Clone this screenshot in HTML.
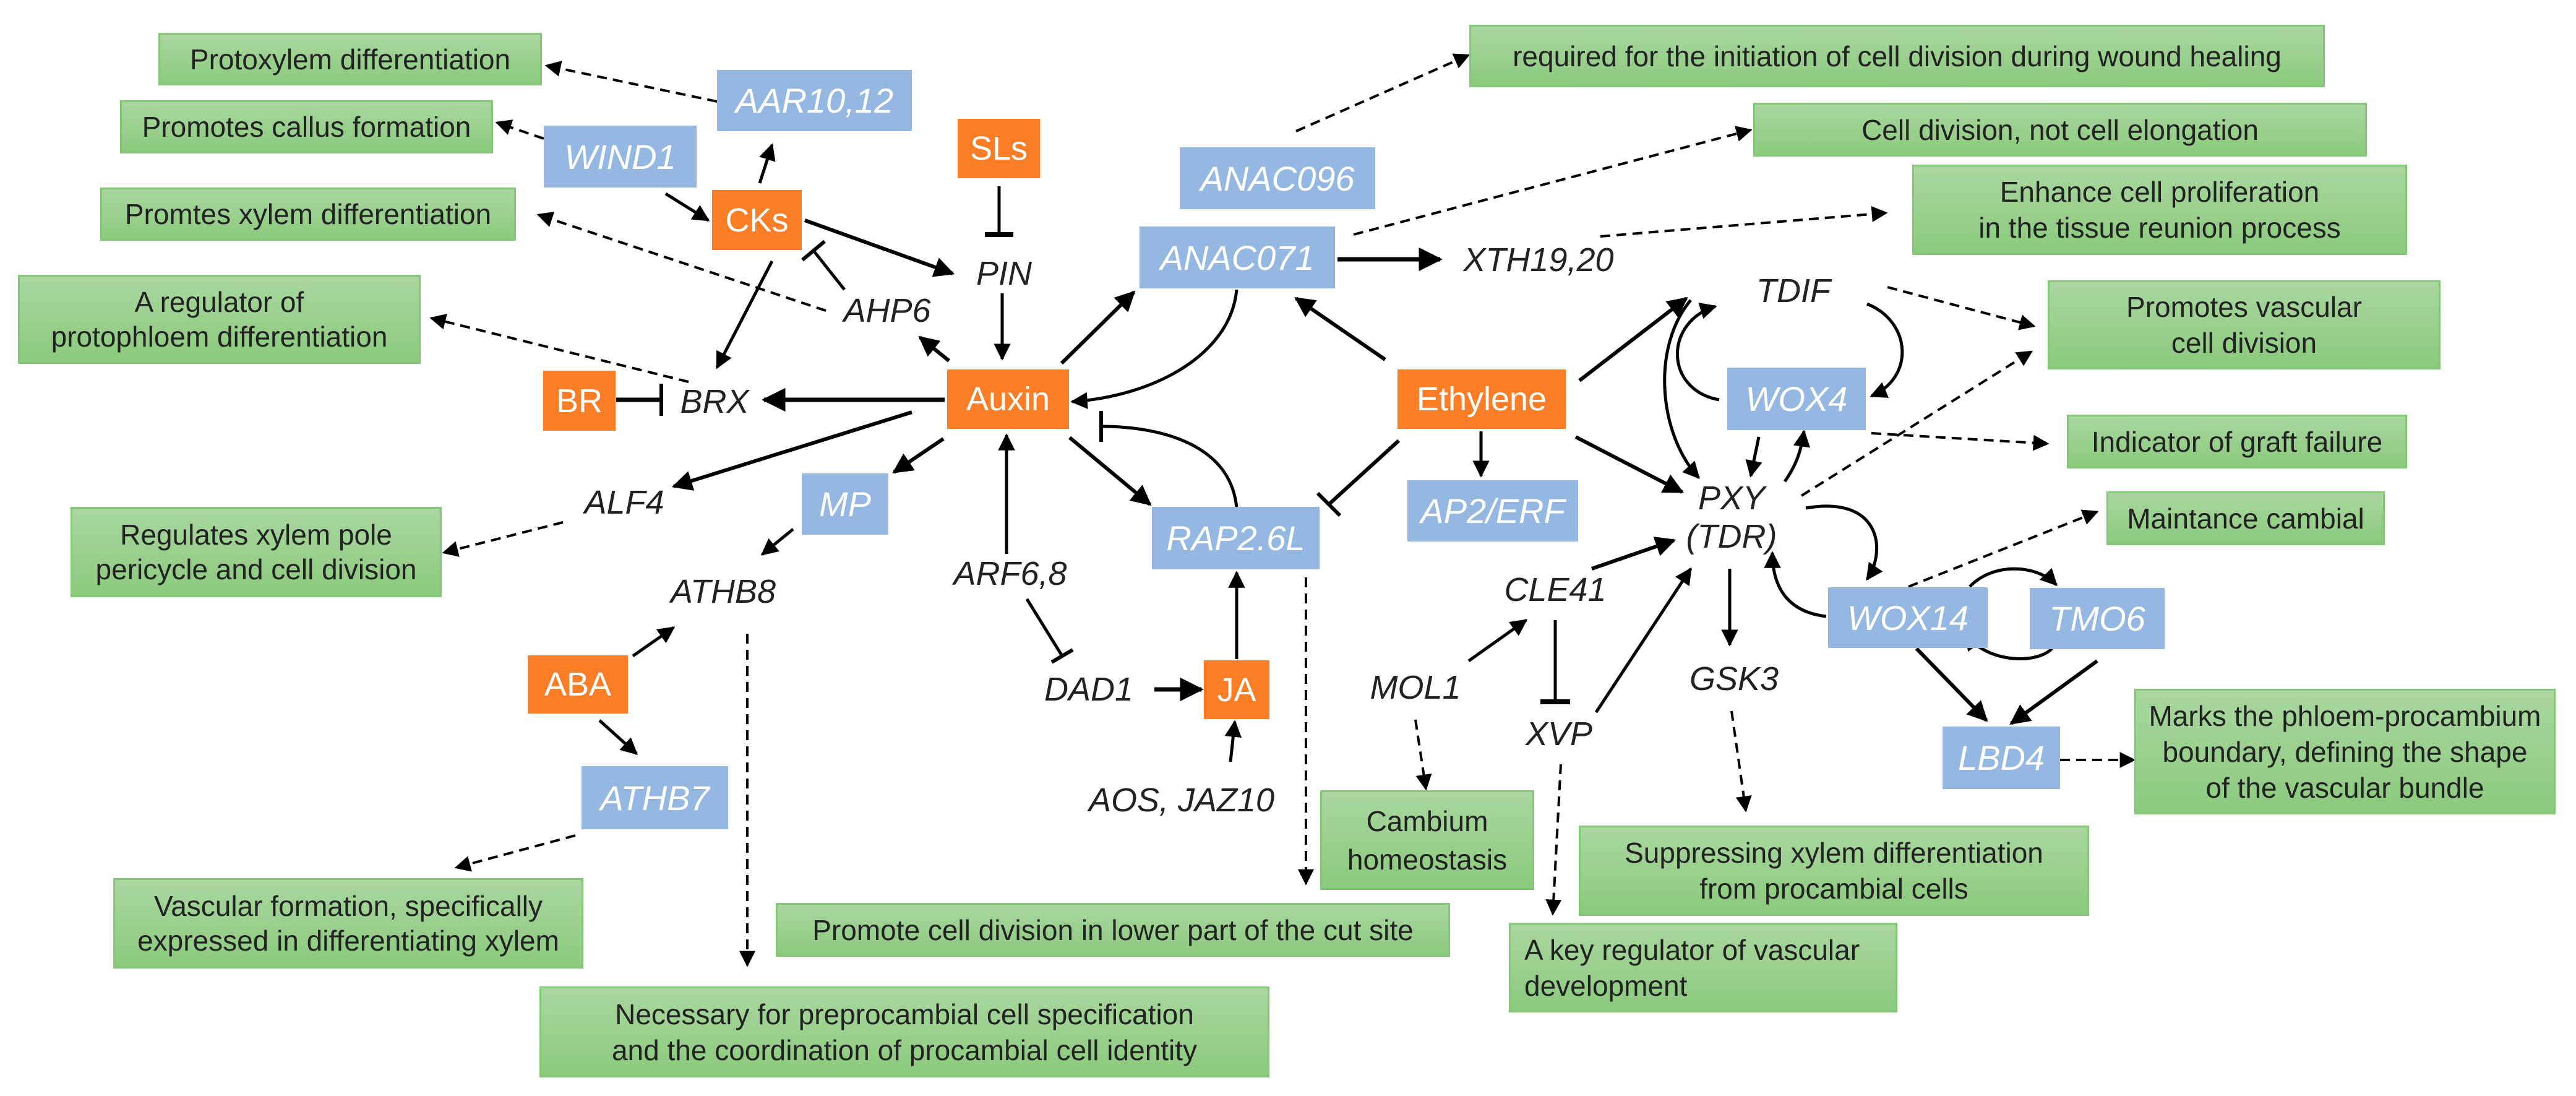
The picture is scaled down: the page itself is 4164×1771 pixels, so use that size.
<!DOCTYPE html>
<html><head><meta charset="utf-8"><style>
html,body{margin:0;padding:0;background:#fff;}
#c{position:relative;width:4164px;height:1771px;overflow:hidden;background:#fff;font-family:"Liberation Sans",sans-serif;}
.g{position:absolute;box-sizing:border-box;background:linear-gradient(#a9d69f,#8bca7d);border:3px solid #84c777;color:#222;font-size:46px;line-height:56px;display:flex;align-items:center;justify-content:center;text-align:center;white-space:nowrap;}
.b{position:absolute;box-sizing:border-box;background:#95b8e2;color:#fff;font-style:italic;font-size:56px;display:flex;align-items:center;justify-content:center;}
.o{position:absolute;box-sizing:border-box;background:#fb7d26;color:#fff;font-size:54px;display:flex;align-items:center;justify-content:center;}
.t{position:absolute;color:#222;font-style:italic;font-size:54px;transform:translate(-50%,-50%);white-space:nowrap;line-height:1;}
svg{position:absolute;left:0;top:0;}
</style></head><body><div id="c">
<svg width="4164" height="1771" viewBox="0 0 4164 1771">
<defs>
<marker id="a" viewBox="0 0 10 10" refX="9" refY="5" markerWidth="5.5" markerHeight="5.5" orient="auto" markerUnits="strokeWidth"><path d="M0,0L10,5L0,10z" fill="#000"/></marker>
<marker id="d" viewBox="0 0 10 10" refX="9" refY="5" markerWidth="6.5" markerHeight="6.5" orient="auto" markerUnits="strokeWidth"><path d="M0,0L10,5L0,10z" fill="#000"/></marker>
</defs>
<g stroke="#000" fill="none" stroke-width="5" marker-end="url(#a)">
<line x1="1076" y1="313" x2="1145" y2="356"/>
<line x1="1228" y1="296" x2="1248" y2="234"/>
<line x1="1301" y1="356" x2="1540" y2="442" stroke-width="6"/>
<line x1="1248" y1="422" x2="1159" y2="594"/>
<line x1="1620" y1="474" x2="1620" y2="580"/>
<line x1="1534" y1="583" x2="1487" y2="545" stroke-width="6"/>
<line x1="1716" y1="587" x2="1833" y2="472" stroke-width="6"/>
<path d="M1999,468 C1990,570 1870,640 1733,649"/>
<line x1="1527" y1="646" x2="1235" y2="646" stroke-width="7"/>
<line x1="1474" y1="666" x2="1089" y2="786" stroke-width="6"/>
<line x1="1525" y1="709" x2="1445" y2="763" stroke-width="6"/>
<line x1="1627" y1="895" x2="1627" y2="703"/>
<line x1="1729" y1="707" x2="1859" y2="815" stroke-width="6"/>
<line x1="1282" y1="855" x2="1232" y2="896"/>
<line x1="1023" y1="1060" x2="1089" y2="1014"/>
<line x1="969" y1="1164" x2="1029" y2="1218"/>
<line x1="1866" y1="1114" x2="1942" y2="1114" stroke-width="7"/>
<line x1="1999" y1="1065" x2="1999" y2="925"/>
<line x1="1989" y1="1231" x2="1996" y2="1166"/>
<line x1="2162" y1="419" x2="2328" y2="419" stroke-width="7"/>
<line x1="2239" y1="581" x2="2095" y2="482" stroke-width="6"/>
<line x1="2553" y1="615" x2="2726" y2="482" stroke-width="6"/>
<path d="M3018,491 C3090,520 3095,610 3025,640"/>
<path d="M2779,646 C2690,630 2690,520 2773,495"/>
<path d="M2733,485 C2670,560 2680,700 2746,772"/>
<line x1="2547" y1="706" x2="2719" y2="795" stroke-width="6"/>
<line x1="2394" y1="697" x2="2394" y2="769"/>
<line x1="2843" y1="706" x2="2830" y2="769"/>
<path d="M2885,778 C2905,750 2912,725 2916,697"/>
<path d="M2919,821 C3040,800 3050,890 3018,936"/>
<path d="M2952,996 C2900,990 2865,960 2865,893"/>
<line x1="2573" y1="919" x2="2706" y2="873" stroke-width="6"/>
<line x1="2374" y1="1068" x2="2467" y2="1002"/>
<line x1="2580" y1="1151" x2="2733" y2="919"/>
<line x1="2796" y1="919" x2="2796" y2="1042"/>
<path d="M3184,948 C3220,910 3290,910 3324,945"/>
<path d="M3317,1048 C3290,1075 3210,1070 3178,1025"/>
<line x1="3098" y1="1048" x2="3211" y2="1164" stroke-width="6"/>
<line x1="3390" y1="1068" x2="3251" y2="1169" stroke-width="6"/>
</g>
<g stroke="#000" fill="none" stroke-width="5">
<line x1="1615" y1="301" x2="1615" y2="379"/><line x1="1592" y1="379" x2="1638" y2="379" stroke-width="8"/>
<line x1="1365" y1="468" x2="1315" y2="405"/><line x1="1297" y1="420" x2="1333" y2="390" stroke-width="6"/>
<line x1="996" y1="646" x2="1069" y2="646" stroke-width="7"/><line x1="1069" y1="620" x2="1069" y2="672" stroke-width="6"/>
<path d="M1999,821 C1990,720 1880,689 1780,689"/><line x1="1780" y1="664" x2="1780" y2="714" stroke-width="6"/>
<line x1="1660" y1="968" x2="1717" y2="1060"/><line x1="1700" y1="1070" x2="1734" y2="1050" stroke-width="6"/>
<line x1="2261" y1="712" x2="2148" y2="815" stroke-width="6"/><line x1="2130" y1="797" x2="2166" y2="833" stroke-width="6"/>
<line x1="2514" y1="1002" x2="2514" y2="1134"/><line x1="2490" y1="1134" x2="2538" y2="1134" stroke-width="8"/>
</g>
<g stroke="#000" fill="none" stroke-width="4" stroke-dasharray="16 10" marker-end="url(#d)">
<line x1="1159" y1="164" x2="883" y2="106"/>
<line x1="879" y1="224" x2="803" y2="198"/>
<line x1="1335" y1="502" x2="870" y2="347"/>
<line x1="1113" y1="617" x2="697" y2="514"/>
<line x1="910" y1="844" x2="717" y2="893"/>
<line x1="930" y1="1350" x2="737" y2="1402"/>
<line x1="1208" y1="1024" x2="1208" y2="1560"/>
<line x1="2111" y1="933" x2="2111" y2="1428"/>
<line x1="2095" y1="212" x2="2374" y2="89"/>
<line x1="2188" y1="379" x2="2830" y2="210"/>
<line x1="2587" y1="382" x2="3049" y2="344"/>
<line x1="3051" y1="464" x2="3288" y2="527"/>
<line x1="3025" y1="700" x2="3310" y2="717"/>
<line x1="2912" y1="801" x2="3284" y2="568"/>
<line x1="3085" y1="948" x2="3390" y2="827"/>
<line x1="2288" y1="1163" x2="2305" y2="1275"/>
<line x1="2523" y1="1235" x2="2510" y2="1477"/>
<line x1="2799" y1="1149" x2="2822" y2="1310"/>
<line x1="3330" y1="1228" x2="3450" y2="1228"/>
</g>
</svg>

<div class="g" style="left:256px;top:53px;width:620px;height:85px">Protoxylem differentiation</div>
<div class="g" style="left:194px;top:162px;width:603px;height:86px">Promotes callus formation</div>
<div class="g" style="left:162px;top:303px;width:672px;height:86px">Promtes xylem differentiation</div>
<div class="g" style="left:29px;top:444px;width:651px;height:144px">A regulator of<br>protophloem differentiation</div>
<div class="g" style="left:114px;top:819px;width:600px;height:146px">Regulates xylem pole<br>pericycle and cell division</div>
<div class="g" style="left:183px;top:1419px;width:760px;height:146px">Vascular formation, specifically<br>expressed in differentiating xylem</div>
<div class="g" style="left:1254px;top:1459px;width:1090px;height:87px">Promote cell division in lower part of the cut site</div>
<div class="g" style="left:872px;top:1594px;width:1180px;height:147px;line-height:58px">Necessary for preprocambial cell specification<br>and the coordination of procambial cell identity</div>
<div class="g" style="left:2375px;top:40px;width:1383px;height:101px">required for the initiation of cell division during wound healing</div>
<div class="g" style="left:2834px;top:166px;width:992px;height:87px">Cell division, not cell elongation</div>
<div class="g" style="left:3091px;top:266px;width:800px;height:146px;line-height:58px">Enhance cell proliferation<br>in the tissue reunion process</div>
<div class="g" style="left:3310px;top:453px;width:635px;height:144px;line-height:58px">Promotes vascular<br>cell division</div>
<div class="g" style="left:3341px;top:670px;width:550px;height:87px">Indicator of graft failure</div>
<div class="g" style="left:3405px;top:794px;width:450px;height:87px">Maintance cambial</div>
<div class="g" style="left:3450px;top:1113px;width:681px;height:203px;line-height:58px">Marks the phloem-procambium<br>boundary, defining the shape<br>of the vascular bundle</div>
<div class="g" style="left:2134px;top:1277px;width:346px;height:161px;line-height:62px">Cambium<br>homeostasis</div>
<div class="g" style="left:2552px;top:1334px;width:825px;height:146px;line-height:58px">Suppressing xylem differentiation<br>from procambial cells</div>
<div class="g" style="left:2439px;top:1491px;width:628px;height:145px;line-height:58px;justify-content:flex-start;text-align:left;padding-left:22px">A key regulator of vascular<br>development</div>

<div class="b" style="left:1159px;top:113px;width:315px;height:99px">AAR10,12</div>
<div class="b" style="left:879px;top:203px;width:247px;height:100px">WIND1</div>
<div class="b" style="left:1907px;top:238px;width:316px;height:100px">ANAC096</div>
<div class="b" style="left:1842px;top:366px;width:316px;height:100px">ANAC071</div>
<div class="b" style="left:1296px;top:765px;width:140px;height:99px">MP</div>
<div class="b" style="left:1862px;top:819px;width:271px;height:101px">RAP2.6L</div>
<div class="b" style="left:940px;top:1238px;width:237px;height:102px">ATHB7</div>
<div class="b" style="left:2792px;top:594px;width:224px;height:101px">WOX4</div>
<div class="b" style="left:2275px;top:776px;width:276px;height:99px">AP2/ERF</div>
<div class="b" style="left:2955px;top:949px;width:258px;height:98px">WOX14</div>
<div class="b" style="left:3281px;top:950px;width:218px;height:99px">TMO6</div>
<div class="b" style="left:3140px;top:1174px;width:190px;height:101px">LBD4</div>

<div class="o" style="left:1548px;top:192px;width:133px;height:96px">SLs</div>
<div class="o" style="left:1151px;top:307px;width:145px;height:97px">CKs</div>
<div class="o" style="left:878px;top:599px;width:117px;height:97px">BR</div>
<div class="o" style="left:1531px;top:597px;width:197px;height:96px">Auxin</div>
<div class="o" style="left:2259px;top:597px;width:272px;height:96px">Ethylene</div>
<div class="o" style="left:853px;top:1059px;width:162px;height:94px">ABA</div>
<div class="o" style="left:1946px;top:1067px;width:106px;height:95px">JA</div>

<div class="t" style="left:1623px;top:442px">PIN</div>
<div class="t" style="left:1434px;top:502px">AHP6</div>
<div class="t" style="left:1155px;top:649px">BRX</div>
<div class="t" style="left:1009px;top:812px">ALF4</div>
<div class="t" style="left:1169px;top:956px">ATHB8</div>
<div class="t" style="left:1633px;top:927px">ARF6,8</div>
<div class="t" style="left:1760px;top:1114px">DAD1</div>
<div class="t" style="left:1910px;top:1293px">AOS, JAZ10</div>
<div class="t" style="left:2487px;top:420px">XTH19,20</div>
<div class="t" style="left:2899px;top:470px">TDIF</div>
<div class="t" style="left:2799px;top:836px;text-align:center;line-height:62px">PXY<br>(TDR)</div>
<div class="t" style="left:2514px;top:953px">CLE41</div>
<div class="t" style="left:2288px;top:1111px">MOL1</div>
<div class="t" style="left:2520px;top:1186px">XVP</div>
<div class="t" style="left:2803px;top:1097px">GSK3</div>
</div></body></html>
